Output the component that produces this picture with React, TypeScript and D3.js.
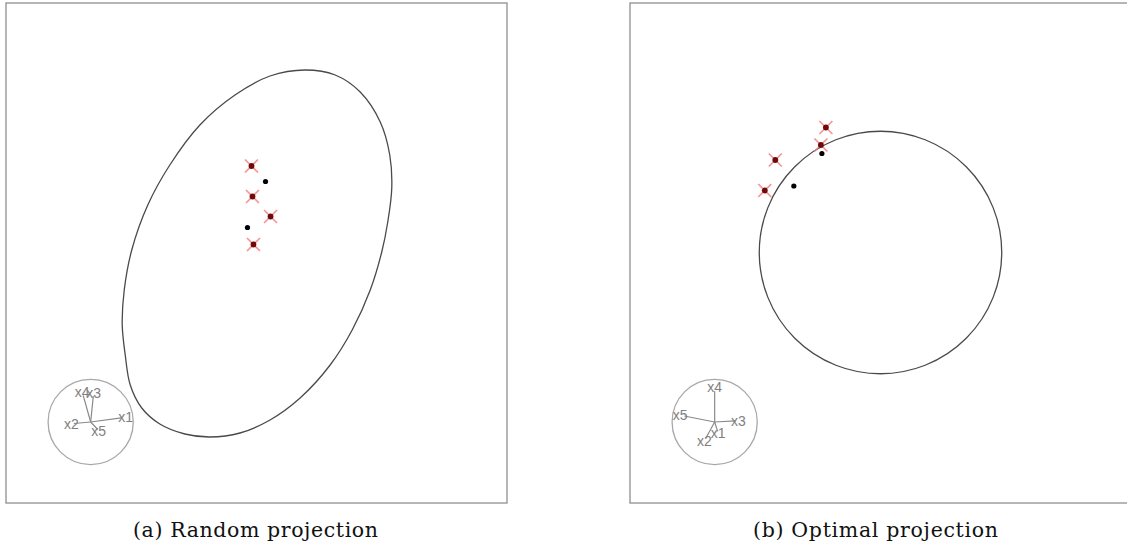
import React from "react";
import * as d3 from "d3";

// ---- data (panel units 0..100) ----
const randomOutline: [number, number][] = [
  [59.7, 86.6], [65.7, 85.6], [70.7, 82.2], [74.7, 76.2], [76.6, 69.6], [77.0, 63.0],
  [76.2, 56.2], [75.0, 50.2], [72.7, 42.6], [69.1, 34.6], [64.7, 27.6], [58.7, 21.0],
  [52.7, 16.6], [46.7, 14.0], [40.7, 13.2], [35.7, 13.8], [30.7, 15.8], [27.1, 19.0],
  [24.8, 23.6], [23.8, 29.6], [23.2, 35.6], [23.6, 42.6], [25.1, 50.6], [28.3, 59.6],
  [32.7, 67.6], [38.7, 75.6], [45.7, 81.6], [52.7, 85.4],
];
const randomCrossPts: [number, number][] = [[49.0, 67.4], [49.2, 61.3], [52.8, 57.3], [49.4, 51.7]];
const randomDotPts: [number, number][] = [[51.8, 64.3], [48.2, 55.1]];

const optimalCircle = { cx: 50.0, cy: 50.1, r: 24.2 };
const optimalCrossPts: [number, number][] = [[39.1, 75.1], [38.1, 71.6], [29.0, 68.6], [26.9, 62.5]];
const optimalDotPts: [number, number][] = [[38.3, 69.9], [32.7, 63.4]];

const axisLabels = ["x1", "x2", "x3", "x4", "x5"];
const randomAxes: [number, number][] = [[0.82, 0.11], [-0.45, -0.04], [0.07, 0.69], [-0.2, 0.71], [0.19, -0.2]];
const optimalAxes: [number, number][] = [[0.08, -0.25], [-0.24, -0.44], [0.56, 0.03], [0.0, 0.82], [-0.81, 0.16]];
const axisCircle = { cx: 16.9, cy: 16.2, r: 8.5 };

const captions = ["(a) Random projection", "(b) Optimal projection"];

// ---- layout ----
const W = 1127, H = 546;
const panels = [
  { x0: 6, caption: captions[0], capX: 255.5 },
  { x0: 630, caption: captions[1], capX: 875.5 },
];
const PW = 501, PY0 = 3, PY1 = 503;

function Panel({ idx }: { idx: number }) {
  const p = panels[idx];
  const x = d3.scaleLinear().domain([0, 100]).range([p.x0, p.x0 + PW]);
  const y = d3.scaleLinear().domain([0, 100]).range([PY1, PY0]);
  const line = d3.line<[number, number]>().x(d => x(d[0])).y(d => y(d[1])).curve(d3.curveCatmullRomClosed.alpha(0.5));
  const crosses = idx === 0 ? randomCrossPts : optimalCrossPts;
  const dots = idx === 0 ? randomDotPts : optimalDotPts;
  const axes = idx === 0 ? randomAxes : optimalAxes;
  const acx = x(axisCircle.cx), acy = y(axisCircle.cy);
  const ar = x(axisCircle.r) - x(0);
  const s = 6.5;
  return (
    <g>
      <rect x={p.x0} y={PY0} width={PW} height={PY1 - PY0} fill="none" stroke="#8f8f8f" strokeWidth={1.3} />
      {idx === 0 ? (
        <path d={line(randomOutline) || ""} fill="none" stroke="#4a4a4a" strokeWidth={1.3} />
      ) : (
        <circle cx={x(optimalCircle.cx)} cy={y(optimalCircle.cy)} r={x(optimalCircle.r) - x(0)} fill="none" stroke="#4a4a4a" strokeWidth={1.3} />
      )}
      {dots.map((d, i) => (
        <circle key={"d" + i} cx={x(d[0])} cy={y(d[1])} r={2.6} fill="#000" />
      ))}
      {crosses.map((d, i) => (
        <g key={"c" + i}>
          <line x1={x(d[0]) - s} y1={y(d[1]) - s} x2={x(d[0]) + s} y2={y(d[1]) + s} stroke="#f47a7a" strokeWidth={1.7} strokeOpacity={0.8} />
          <line x1={x(d[0]) - s} y1={y(d[1]) + s} x2={x(d[0]) + s} y2={y(d[1]) - s} stroke="#f47a7a" strokeWidth={1.7} strokeOpacity={0.8} />
          <circle cx={x(d[0])} cy={y(d[1])} r={2.9} fill="#6e0a0a" />
        </g>
      ))}
      <circle cx={acx} cy={acy} r={ar} fill="none" stroke="#a8a8a8" strokeWidth={1.3} />
      {axes.map((a, i) => (
        <line key={"l" + i} x1={acx} y1={acy} x2={acx + a[0] * ar * 0.88} y2={acy - a[1] * ar * 0.88} stroke="#8a8a8a" strokeWidth={1.2} />
      ))}
      {axes.map((a, i) => (
        <text key={"t" + i} x={acx + a[0] * ar} y={acy - a[1] * ar} textAnchor="middle" dominantBaseline="central"
          fontFamily="'Liberation Sans', Arial, sans-serif" fontSize={14} fill="#808080">
          {axisLabels[i]}
        </text>
      ))}
      <text x={p.capX} y={537} textAnchor="middle" fontFamily="'DejaVu Serif', serif" fontSize={20.5} fill="#111"
        textLength={245} lengthAdjust="spacing">
        {p.caption}
      </text>
    </g>
  );
}

export default function App() {
  return (
    <svg width={W} height={H} style={{ position: "absolute", left: 0, top: 0, background: "#fff" }}>
      <rect width={W} height={H} fill="#fff" />
      <Panel idx={0} />
      <Panel idx={1} />
    </svg>
  );
}
